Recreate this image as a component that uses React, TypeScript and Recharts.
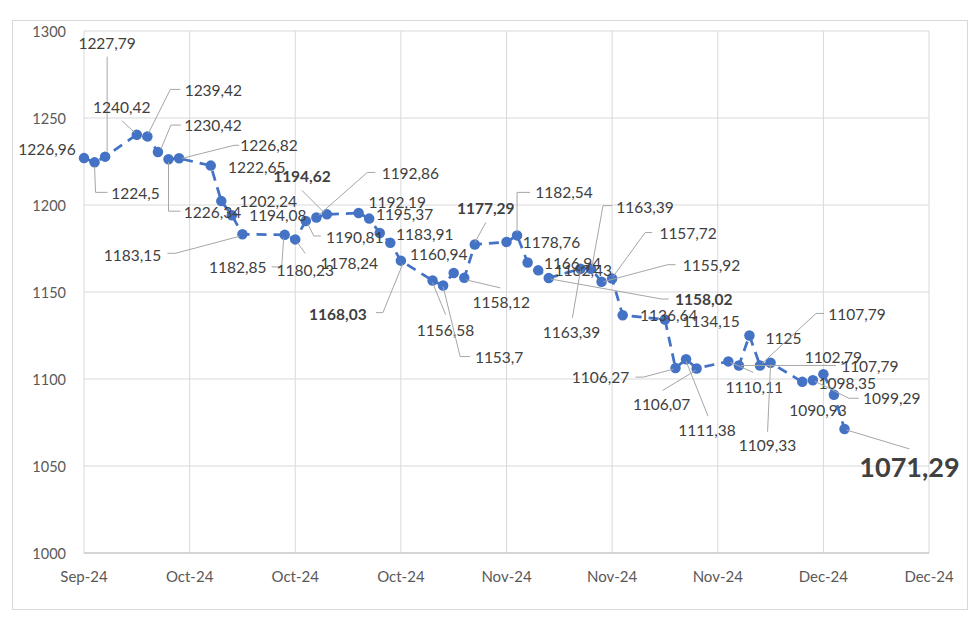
import React from "react";
import { LineChart, Line, XAxis, YAxis, CartesianGrid, LabelList } from "recharts";

const dates = [
  "2024-09-25", "2024-09-26", "2024-09-27",
  "2024-09-30", "2024-10-01", "2024-10-02", "2024-10-03", "2024-10-04",
  "2024-10-07", "2024-10-08", "2024-10-09", "2024-10-10",
  "2024-10-14", "2024-10-15", "2024-10-16", "2024-10-17", "2024-10-18",
  "2024-10-21", "2024-10-22", "2024-10-23", "2024-10-24", "2024-10-25",
  "2024-10-28", "2024-10-29", "2024-10-30", "2024-10-31", "2024-11-01",
  "2024-11-04", "2024-11-05", "2024-11-06", "2024-11-07", "2024-11-08",
  "2024-11-11", "2024-11-12", "2024-11-13", "2024-11-14", "2024-11-15",
  "2024-11-19", "2024-11-20", "2024-11-21", "2024-11-22",
  "2024-11-25", "2024-11-26", "2024-11-27", "2024-11-28", "2024-11-29",
  "2024-12-02", "2024-12-03", "2024-12-04", "2024-12-05", "2024-12-06",
];

const values = [
  1226.96, 1224.5, 1227.79,
  1240.42, 1239.42, 1230.42, 1226.34, 1226.82,
  1222.65, 1202.24, 1194.08, 1183.15,
  1182.85, 1180.23, 1190.81, 1192.86, 1194.62,
  1195.37, 1192.19, 1183.91, 1178.24, 1168.03,
  1156.58, 1153.7, 1160.94, 1158.12, 1177.29,
  1178.76, 1182.54, 1166.94, 1162.43, 1158.02,
  1163.39, 1163.39, 1155.92, 1157.72, 1136.64,
  1134.15, 1106.27, 1111.38, 1106.07,
  1110.11, 1107.79, 1125, 1107.79, 1109.33,
  1098.35, 1099.29, 1102.79, 1090.93, 1071.29,
];

const xTickLabels = ["Sep-24", "Oct-24", "Oct-24", "Oct-24", "Nov-24", "Nov-24", "Nov-24", "Dec-24", "Dec-24"];
const yTicks = [1000, 1050, 1100, 1150, 1200, 1250, 1300];

const boldIdx = [16, 21, 26, 31];
const bigIdx = 50;

// label placement: [dx, dy, leader points relative to the marker]
const labelLayout: Array<[number, number, number[][]?]> = [
  [-37, -9],
  [41, 31, [[0, 4], [1, 30], [13, 30]]],
  [2, -114, [[2, -100], [2, -5]]],
  [-15, -28, [[-15, -14], [-2, -2]]],
  [66, -46, [[1, -3], [23, -47], [33, -47]]],
  [55, -27, [[3, -3], [13, -27], [23, -27]]],
  [44, 53, [[0, 3], [0, 52], [12, 52]]],
  [90, -13, [[3, 0], [55, -13], [60, -13]]],
  [46, 1],
  [47, 0],
  [46, 0],
  [-110, 21, [[-3, 2], [-67, 19], [-75, 19]]],
  [-47, 32, [[-1, 3], [-3, 32], [-13, 32]]],
  [10, 31, [[2, 3], [10, 14]]],
  [49, 16, [[2, 3], [8, 15], [15, 15]]],
  [94, -44, [[2, -2], [51, -45], [59, -45]]],
  [-25, -38, [[-3, -2], [-25, -24]]],
  [46, 1],
  [28, -17],
  [45, 1],
  [-41, 20],
  [-63, 53, [[2, 3], [-18, 52], [-25, 52]]],
  [13, 49, [[0, 2], [13, 34]]],
  [56, 71, [[0, 1], [17, 71], [27, 71]]],
  [-15, -19],
  [37, 24, [[2, 2], [36, 10]]],
  [11, -37, [[0, -2], [11, -22]]],
  [45, 0],
  [47, -43, [[0, -3], [0, -43], [13, -43]]],
  [45, 0],
  [45, 0],
  [155, 21, [[2, 1], [113, 21], [120, 21]]],
  [-9, 63, [[0, 2], [-8, 49]]],
  [54, -62, [[1, -2], [12, -63], [21, -63]]],
  [110, -17, [[2, 0], [66, -17], [74, -17]]],
  [76, -46, [[1, -2], [33, -46], [40, -46]]],
  [46, 0],
  [46, 1],
  [-75, 9, [[-2, 1], [-32, 9], [-40, 9]]],
  [21, 71, [[0, 2], [22, 57]]],
  [-35, 36, [[-1, 2], [-34, 22]]],
  [26, 26, [[2, 1], [25, 11]]],
  [131, 1, [[2, 0], [97, 0]]],
  [34, 2],
  [97, -51, [[2, -2], [56, -52], [64, -52]]],
  [-3, 82, [[0, 2], [-3, 69]]],
  [45, 1],
  [79, 18, [[2, 1], [36, 18], [46, 18]]],
  [10, -17],
  [-16, 15],
  [65, 38, [[2, 1], [65, 20]]],
];

const DAY = 86400000;
const start = Date.parse(dates[0]);
const data = dates.map((d, i) => ({ day: (Date.parse(d) - start) / DAY, value: values[i] }));
const xTicks = xTickLabels.map((_, i) => i * 10);

const FONT = "Lato, 'Liberation Sans', sans-serif";
const BLUE = "#4472C4";

const fmt = (v: number) => String(v).replace(".", ",");

const renderLabel = (props: any) => {
  const { x, y, index, value } = props;
  const lay = labelLayout[index];
  if (!lay) return null;
  const [dx, dy, leader] = lay;
  const big = index === bigIdx;
  const bold = big || boldIdx.includes(index);
  return (
    <g key={`lbl-${index}`}>
      {leader && (
        <polyline
          points={leader.map((p) => `${x + p[0]},${y + p[1]}`).join(" ")}
          fill="none"
          stroke="#a6a6a6"
          strokeWidth={1}
        />
      )}
      <text
        x={x + dx}
        y={y + dy}
        textAnchor="middle"
        dominantBaseline="central"
        fontFamily={FONT}
        fontSize={big ? 27 : 15.5}
        fontWeight={bold ? 700 : 400}
        fill="#404040"
      >
        {fmt(value)}
      </text>
    </g>
  );
};

const XTick = (props: any) => {
  const { x, y, payload } = props;
  const i = xTicks.indexOf(payload.value);
  return (
    <text x={x} y={y} textAnchor="middle" dominantBaseline="central" fontFamily={FONT} fontSize={15} fill="#595959">
      {xTickLabels[i]}
    </text>
  );
};

const YTick = (props: any) => {
  const { x, y, payload } = props;
  return (
    <text x={x} y={y} textAnchor="end" dominantBaseline="central" fontFamily={FONT} fontSize={14.5} fill="#595959">
      {payload.value}
    </text>
  );
};

export default function App() {
  return (
    <div style={{ position: "absolute", left: 0, top: 0, width: 980, height: 619, background: "#fff" }}>
      <div
        style={{
          position: "absolute",
          left: 12,
          top: 20,
          width: 956,
          height: 590,
          border: "1px solid #d9d9d9",
          boxSizing: "border-box",
        }}
      />
      <LineChart
        width={980}
        height={619}
        data={data}
        margin={{ top: 31, right: 51, bottom: 36, left: 24 }}
        style={{ position: "absolute", left: 0, top: 0 }}
      >
        <CartesianGrid stroke="#d9d9d9" strokeWidth={1} />
        <XAxis
          dataKey="day"
          type="number"
          domain={[0, 80]}
          ticks={xTicks}
          interval={0}
          height={30}
          tickSize={0}
          tickMargin={23}
          tickLine={false}
          axisLine={{ stroke: "#bfbfbf", strokeWidth: 1 }}
          tick={<XTick />}
        />
        <YAxis
          type="number"
          domain={[1000, 1300]}
          ticks={yTicks}
          interval={0}
          width={60}
          tickSize={0}
          tickMargin={18}
          tickLine={false}
          axisLine={false}
          tick={<YTick />}
        />
        <Line
          dataKey="value"
          type="linear"
          stroke={BLUE}
          strokeWidth={2.75}
          strokeDasharray="10 7"
          dot={{ r: 5.25, fill: BLUE, stroke: "none", strokeDasharray: "0" }}
          isAnimationActive={false}
        >
          <LabelList dataKey="value" content={renderLabel} />
        </Line>
      </LineChart>
    </div>
  );
}
